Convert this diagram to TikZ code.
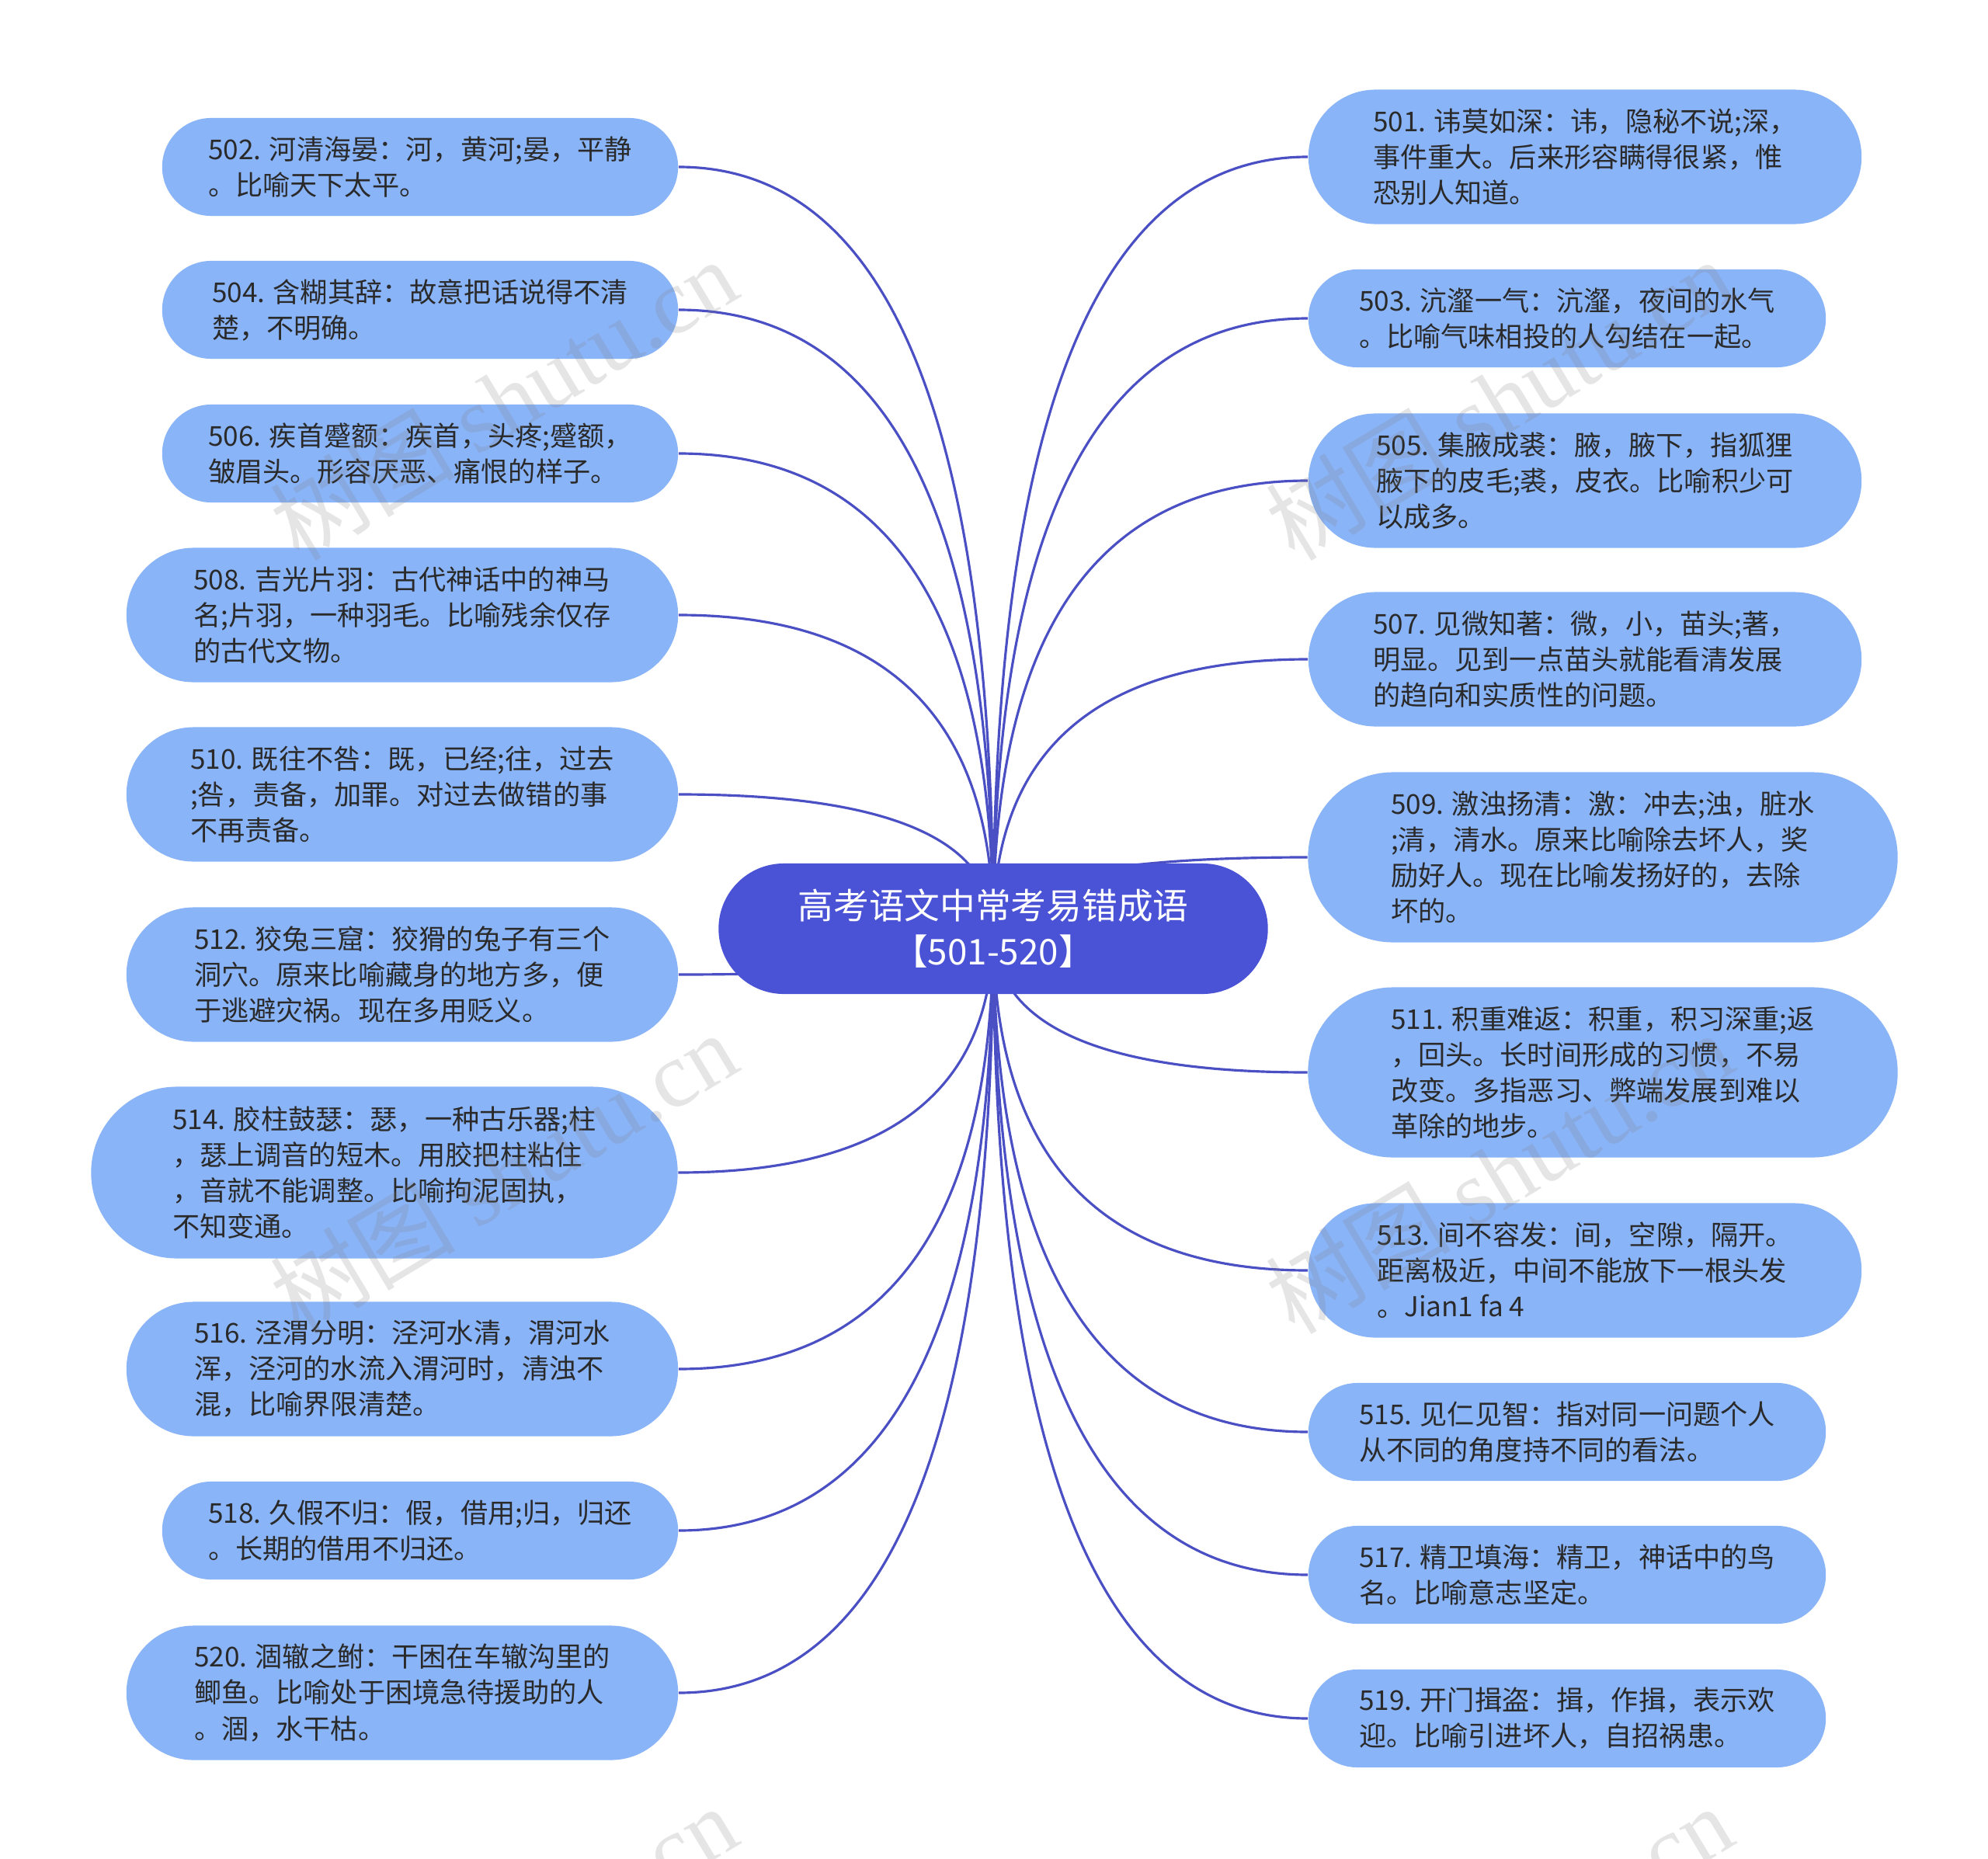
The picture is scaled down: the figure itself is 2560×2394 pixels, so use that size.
\documentclass[tikz,border=0pt]{standalone}
\usepackage{fontspec}
\setmainfont{Noto Sans CJK SC}
\newfontfamily\wmlatin{Liberation Serif}
\usetikzlibrary{shapes.misc,calc}
\pgfdeclarelayer{back}
\pgfdeclarelayer{bg}
\pgfdeclarelayer{wm}
\pgfsetlayers{back,bg,main,wm}
\definecolor{leafc}{HTML}{8AB4F8}
\definecolor{rootc}{HTML}{4A52D6}
\definecolor{linec}{HTML}{4A4FC4}
\definecolor{txtc}{HTML}{2A2A2A}
\tikzset{
  leaf/.style={rounded rectangle, fill=leafc, text=txtc, align=left, inner sep=0pt,
    font=\fontsize{10}{13.1}\selectfont},
  sTwoL/.style={leaf, minimum width=6.64cm, minimum height=1.26cm},
  sThreeL/.style={leaf, minimum width=7.10cm, minimum height=1.73cm},
  sFourL/.style={leaf, minimum width=7.55cm, minimum height=2.21cm},
  sTwoR/.style={leaf, minimum width=6.66cm, minimum height=1.26cm},
  sThreeR/.style={leaf, minimum width=7.12cm, minimum height=1.73cm},
  sFourR/.style={leaf, minimum width=7.59cm, minimum height=2.19cm},
  rootstyle/.style={rounded rectangle, fill=rootc, text=white, align=center, inner sep=0pt,
    minimum width=7.07cm, minimum height=1.68cm, font=\fontsize{13}{16.8}\selectfont},
  conn/.style={draw=linec, line width=0.9pt},
  wmark/.style={text=gray, opacity=0.2, rotate=31, font=\fontsize{34}{34}\selectfont}
}
\newcommand\linkL[1]{\draw[conn] (root.center) .. controls ($(root.center)!2/3!(root.center|-#1.east)$) and ($(#1.east)!2/3!(root.center|-#1.east)$) .. (#1.east);}
\newcommand\linkR[1]{\draw[conn] (root.center) .. controls ($(root.center)!2/3!(root.center|-#1.west)$) and ($(#1.west)!2/3!(root.center|-#1.west)$) .. (#1.west);}
\begin{document}
\begin{tikzpicture}[x=0.01cm, y=-0.01cm]
\useasboundingbox (0,0) rectangle (2560,2394);
\begin{pgfonlayer}{back}
\fill[white] (0,0) rectangle (2560,2394);
\end{pgfonlayer}

\node[rootstyle] (root) at (1279,1196) {高考语文中常考易错成语\\【501-520】};

% left
\node[sTwoL] (n502) at (541,215) {502. 河清海晏：河，黄河;晏，平静\\。比喻天下太平。};
\node[sTwoL] (n504) at (541,399) {504. 含糊其辞：故意把话说得不清\\楚，不明确。};
\node[sTwoL] (n506) at (541,584) {506. 疾首蹙额：疾首，头疼;蹙额，\\皱眉头。形容厌恶、痛恨的样子。};
\node[sThreeL] (n508) at (518,792) {508. 吉光片羽：古代神话中的神马\\名;片羽，一种羽毛。比喻残余仅存\\的古代文物。};
\node[sThreeL] (n510) at (518,1023) {510. 既往不咎：既，已经;往，过去\\;咎，责备，加罪。对过去做错的事\\不再责备。};
\node[sThreeL] (n512) at (518,1255) {512. 狡兔三窟：狡猾的兔子有三个\\洞穴。原来比喻藏身的地方多，便\\于逃避灾祸。现在多用贬义。};
\node[sFourL] (n514) at (495,1510) {514. 胶柱鼓瑟：瑟，一种古乐器;柱\\，瑟上调音的短木。用胶把柱粘住\\，音就不能调整。比喻拘泥固执，\\不知变通。};
\node[sThreeL] (n516) at (518,1763) {516. 泾渭分明：泾河水清，渭河水\\浑，泾河的水流入渭河时，清浊不\\混，比喻界限清楚。};
\node[sTwoL] (n518) at (541,1971) {518. 久假不归：假，借用;归，归还\\。长期的借用不归还。};
\node[sThreeL] (n520) at (518,2180) {520. 涸辙之鲋：干困在车辙沟里的\\鲫鱼。比喻处于困境急待援助的人\\。涸，水干枯。};

% right
\node[sThreeR] (n501) at (2041,202) {501. 讳莫如深：讳，隐秘不说;深，\\事件重大。后来形容瞒得很紧，惟\\恐别人知道。};
\node[sTwoR] (n503) at (2018,410) {503. 沆瀣一气：沆瀣，夜间的水气\\。比喻气味相投的人勾结在一起。};
\node[sThreeR] (n505) at (2041,619) {505. 集腋成裘：腋，腋下，指狐狸\\腋下的皮毛;裘，皮衣。比喻积少可\\以成多。};
\node[sThreeR] (n507) at (2041,849) {507. 见微知著：微，小，苗头;著，\\明显。见到一点苗头就能看清发展\\的趋向和实质性的问题。};
\node[sFourR] (n509) at (2064,1104) {509. 激浊扬清：激：冲去;浊，脏水\\;清，清水。原来比喻除去坏人，奖\\励好人。现在比喻发扬好的，去除\\坏的。};
\node[sFourR] (n511) at (2064,1381) {511. 积重难返：积重，积习深重;返\\，回头。长时间形成的习惯，不易\\改变。多指恶习、弊端发展到难以\\革除的地步。};
\node[sThreeR] (n513) at (2041,1636) {513. 间不容发：间，空隙，隔开。\\距离极近，中间不能放下一根头发\\。Jian1 fa 4};
\node[sTwoR] (n515) at (2018,1844) {515. 见仁见智：指对同一问题个人\\从不同的角度持不同的看法。};
\node[sTwoR] (n517) at (2018,2028) {517. 精卫填海：精卫，神话中的鸟\\名。比喻意志坚定。};
\node[sTwoR] (n519) at (2018,2213) {519. 开门揖盗：揖，作揖，表示欢\\迎。比喻引进坏人，自招祸患。};

\begin{pgfonlayer}{bg}
\linkL{n502}\linkL{n504}\linkL{n506}\linkL{n508}\linkL{n510}
\linkL{n512}\linkL{n514}\linkL{n516}\linkL{n518}\linkL{n520}
\linkR{n501}\linkR{n503}\linkR{n505}\linkR{n507}\linkR{n509}
\linkR{n511}\linkR{n513}\linkR{n515}\linkR{n517}\linkR{n519}
\end{pgfonlayer}

\begin{pgfonlayer}{wm}
\begin{scope}
\clip (0,0) rectangle (2560,2394);
\node[wmark] (w1) at (648,514) {树图 {\wmlatin shutu.cn}};
\node[wmark] (w2) at (1930,514) {树图 {\wmlatin shutu.cn}};
\node[wmark] (w3) at (648,1510) {树图 {\wmlatin shutu.cn}};
\node[wmark] (w4) at (1930,1510) {树图 {\wmlatin shutu.cn}};
\node[wmark] (w5) at (648,2506) {树图 {\wmlatin shutu.cn}};
\node[wmark] (w6) at (1930,2506) {树图 {\wmlatin shutu.cn}};
\end{scope}
\end{pgfonlayer}
\end{tikzpicture}
\end{document}
